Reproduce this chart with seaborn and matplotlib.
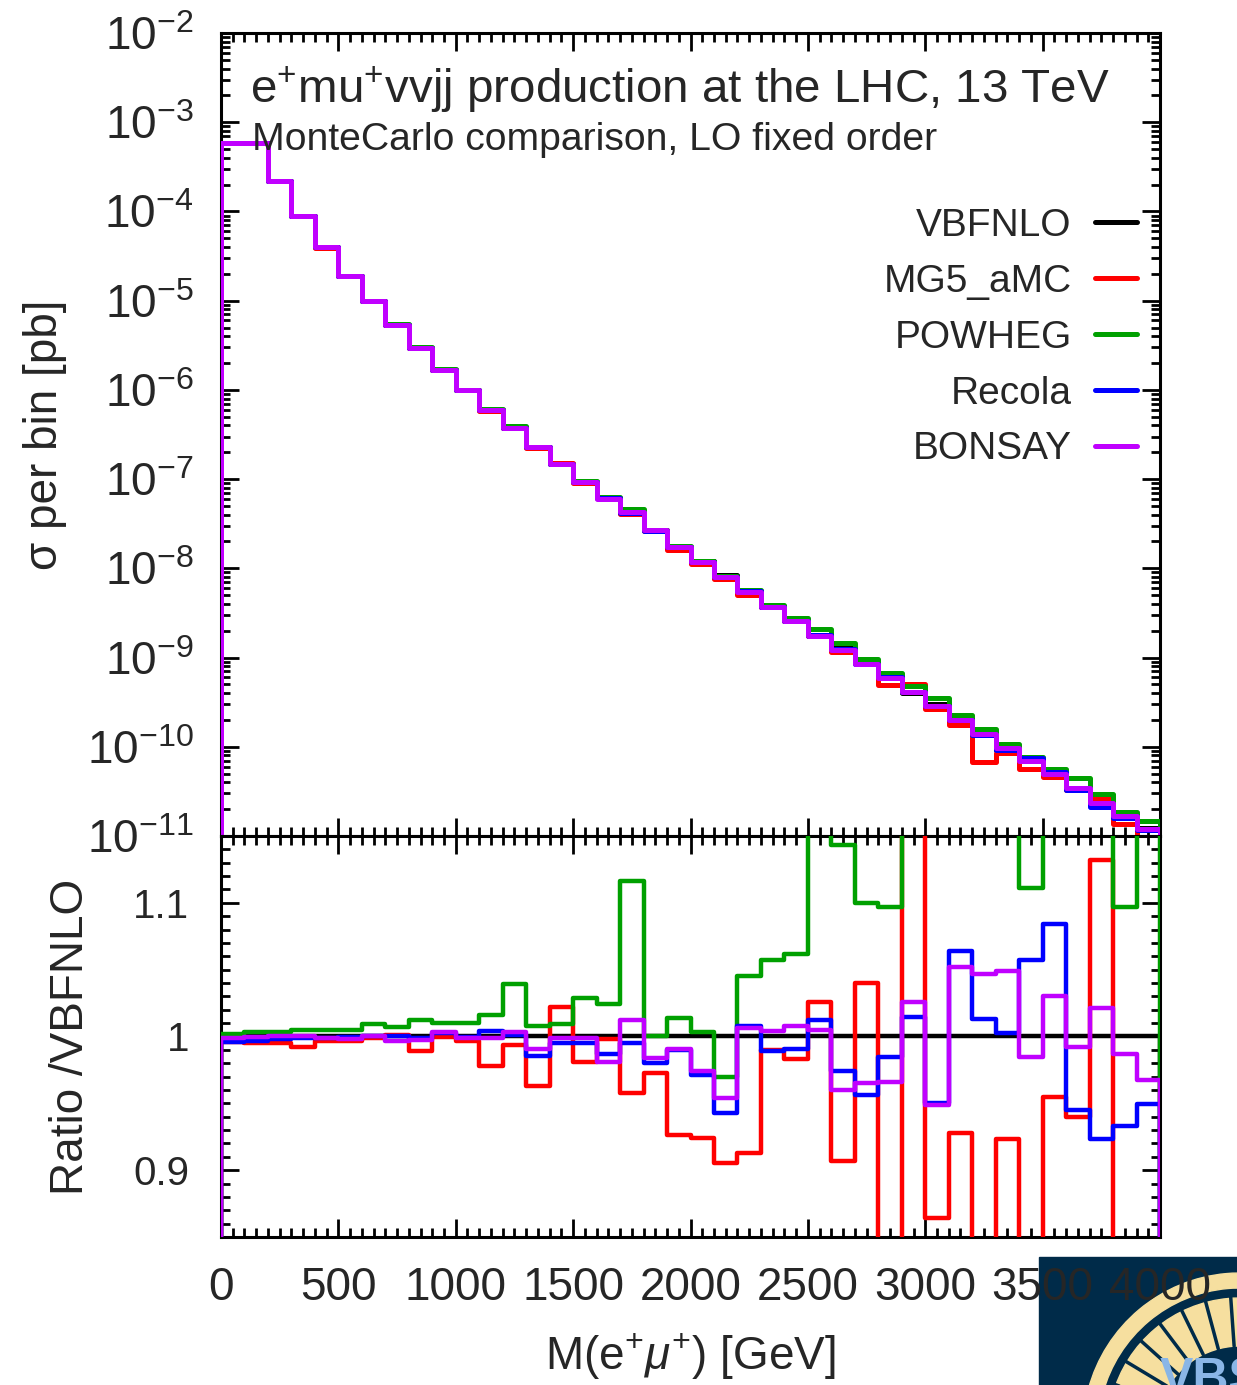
import numpy as np
import pandas as pd
import matplotlib
matplotlib.use("Agg")
import matplotlib.pyplot as plt
import seaborn as sns
from matplotlib.ticker import MultipleLocator, LogLocator, FixedLocator, FuncFormatter, NullFormatter
from matplotlib.lines import Line2D
from matplotlib.patches import Rectangle, Wedge

# ---------------- data ----------------
bin_edges = list(range(0, 4001, 100))          # M(e+mu+) bins [GeV]
generators = ["VBFNLO", "MG5_aMC", "POWHEG", "Recola", "BONSAY"]
colors = ["#000000", "#ff0000", "#00a000", "#0000ff", "#c000ff"]

# VBFNLO cross section per bin [pb]
vbfnlo_sigma = [5.9e-4, 5.9e-4, 2.21e-4, 8.95e-5, 3.95e-5, 1.90e-5, 9.8e-6, 5.37e-6, 2.96e-6, 1.68e-6,
                1.00e-6, 5.98e-7, 3.76e-7, 2.30e-7, 1.48e-7, 9.3e-8, 6.17e-8, 4.19e-8, 2.70e-8, 1.74e-8,
                1.21e-8, 8.4e-9, 5.46e-9, 3.71e-9, 2.58e-9, 1.75e-9, 1.27e-9, 8.8e-10, 6.1e-10, 4.05e-10,
                3.03e-10, 1.90e-10, 1.34e-10, 9.25e-11, 7.0e-11, 4.75e-11, 3.46e-11, 2.30e-11, 1.70e-11, 1.24e-11]

# ratios to VBFNLO
ratio_mg5 = [0.996, 0.995, 0.995, 0.9925, 0.997, 0.997, 0.999, 1.001, 0.989, 0.9995,
             0.997, 0.978, 0.994, 0.9626, 1.022, 0.981, 0.998, 0.958, 0.973, 0.926,
             0.924, 0.905, 0.913, 0.990, 0.983, 1.026, 0.907, 1.040, 0.80, 1.25,
             0.864, 0.928, 0.50, 0.923, 0.80, 0.955, 0.940, 1.132, 0.80, 0.75]
ratio_powheg = [1.002, 1.003, 1.003, 1.005, 1.005, 1.005, 1.009, 1.007, 1.012, 1.010,
                1.010, 1.016, 1.039, 1.0075, 1.009, 1.029, 1.024, 1.116, 1.000, 1.014,
                1.0037, 0.970, 1.0456, 1.057, 1.062, 1.20, 1.143, 1.100, 1.097, 1.18,
                1.17, 1.20, 1.17, 1.17, 1.111, 1.20, 1.30, 1.30, 1.097, 1.20]
ratio_recola = [0.996, 0.9965, 0.998, 0.999, 0.999, 0.9995, 1.0, 1.0, 0.999, 1.0025,
                0.9995, 1.004, 1.001, 0.9855, 0.9955, 0.9955, 0.987, 0.9955, 0.9805, 0.990,
                0.971, 0.943, 1.008, 0.9895, 0.991, 1.0125, 0.974, 0.956, 0.985, 1.0145,
                0.950, 1.064, 1.013, 1.0025, 1.057, 1.084, 0.945, 0.923, 0.933, 0.9497]
ratio_bonsay = [0.999, 0.9995, 1.0, 1.0, 0.999, 0.998, 1.0, 0.997, 0.9975, 1.003,
                0.999, 0.999, 1.003, 0.9905, 0.999, 0.999, 0.981, 1.0125, 0.984, 0.9905,
                0.974, 0.954, 1.006, 1.004, 1.0075, 1.005, 0.960, 0.965, 0.966, 1.026,
                0.949, 1.052, 1.047, 1.049, 0.985, 1.030, 0.9925, 1.021, 0.987, 0.9676]

y_ticks_ratio = [0.9, 1.0, 1.1]
y_ticklabels_ratio = ["0.9", "1", "1.1"]

# ---------------- style ----------------
sns.set_theme(style="ticks")
plt.rcParams["font.family"] = ["Liberation Sans", "DejaVu Sans"]
plt.rcParams["mathtext.fontset"] = "custom"
plt.rcParams["mathtext.rm"] = "Liberation Sans"
plt.rcParams["mathtext.it"] = "Liberation Sans:italic"
plt.rcParams["mathtext.bf"] = "Liberation Sans:bold"

W, H = 1237, 1385
fig = plt.figure(figsize=(W / 100, H / 100), dpi=100)
x0, x1 = 221, 1160
ax1 = fig.add_axes([x0 / W, 1 - 836 / H, (x1 - x0) / W, (836 - 33) / H])
ax2 = fig.add_axes([x0 / W, 1 - 1237 / H, (x1 - x0) / W, (1237 - 836) / H])

ratios = [np.ones(len(vbfnlo_sigma)), ratio_mg5, ratio_powheg, ratio_recola, ratio_bonsay]
edges = np.array(bin_edges, dtype=float)


def stair_points(values, base):
    v = np.asarray(values, dtype=float)
    xs = np.r_[edges[0], edges, edges[-1]]
    ys = np.r_[base, v, v[-1], base]
    return xs, ys


top_rows, bot_rows = [], []
for g, r in zip(generators, ratios):
    sig = np.asarray(vbfnlo_sigma) * np.asarray(r)
    xs, ys = stair_points(sig, 1e-14)
    top_rows.append(pd.DataFrame({"x": xs, "y": ys, "gen": g}))
    xs, ys = stair_points(r, 0.0)
    bot_rows.append(pd.DataFrame({"x": xs, "y": ys, "gen": g}))
top_df = pd.concat(top_rows, ignore_index=True)
bot_df = pd.concat(bot_rows, ignore_index=True)

pal = dict(zip(generators, colors))
sns.lineplot(data=top_df, x="x", y="y", hue="gen", hue_order=generators, palette=pal,
             estimator=None, sort=False, drawstyle="steps-post", linewidth=3.6,
             legend=False, ax=ax1, zorder=3)
sns.lineplot(data=bot_df, x="x", y="y", hue="gen", hue_order=generators, palette=pal,
             estimator=None, sort=False, drawstyle="steps-post", linewidth=3.2,
             legend=False, ax=ax2, zorder=3)

# ---------------- axes ----------------
ax1.set_yscale("log")
ax1.set_xlim(0, 4000)
ax1.set_ylim(1e-11, 1e-2)
ax2.set_xlim(0, 4000)
ax2.set_ylim(0.85, 1.15)

for ax in (ax1, ax2):
    for s in ax.spines.values():
        s.set_linewidth(2.2)
        s.set_color("black")
        s.set_visible(True)
    ax.xaxis.set_major_locator(MultipleLocator(500))
    ax.xaxis.set_minor_locator(MultipleLocator(50))
    ax.tick_params(which="both", direction="in", top=True, right=True, color="black", width=2.0)
    ax.tick_params(which="major", length=13)
    ax.tick_params(which="minor", length=6.5)
    ax.set_xlabel("")
    ax.set_ylabel("")

ax1.yaxis.set_major_locator(LogLocator(base=10, numticks=20))
ax1.yaxis.set_minor_locator(LogLocator(base=10, subs=np.arange(2, 10), numticks=200))
ax1.yaxis.set_minor_formatter(NullFormatter())
ax1.yaxis.set_major_formatter(FuncFormatter(lambda v, p: r"$\mathregular{10^{%d}}$" % int(round(np.log10(v)))))
ax1.tick_params(axis="x", labelbottom=False)
ax1.tick_params(axis="y", which="major", labelsize=33, pad=20)

ax2.yaxis.set_major_locator(FixedLocator(y_ticks_ratio))
ax2.set_yticklabels(y_ticklabels_ratio)
ax2.yaxis.set_minor_locator(MultipleLocator(0.01))
ax2.tick_params(axis="y", which="major", labelsize=29, pad=23)
ax2.tick_params(axis="x", which="major", labelsize=33, pad=21)

ax1.set_ylabel("σ per bin [pb]", fontsize=33)
ax1.yaxis.set_label_coords((67 - x0) / (x1 - x0), 0.5)
ax2.set_ylabel("Ratio /VBFNLO", fontsize=33)
ax2.yaxis.set_label_coords((93 - x0) / (x1 - x0), 0.5)
ax2.set_xlabel(r"M(e$^{+}\mu^{+}$) [GeV]", fontsize=33)
ax2.xaxis.set_label_coords(0.5, (1237 - 1332) / 401)

# titles inside the top panel
ax1.text((250 - x0) / (x1 - x0), (836 - 103) / 803, r"e$^{+}$mu$^{+}$vvjj production at the LHC, 13 TeV",
         transform=ax1.transAxes, ha="left", va="baseline", fontsize=34.2)
ax1.text((252 - x0) / (x1 - x0), (836 - 150) / 803, "MonteCarlo comparison, LO fixed order",
         transform=ax1.transAxes, ha="left", va="baseline", fontsize=28.2)

handles = [Line2D([], [], color=c, lw=3.6) for c in colors]
ax1.legend(handles, generators, loc="upper right", bbox_to_anchor=((1137 - x0) / (x1 - x0), (836 - 208) / 803),
           markerfirst=False, frameon=False, fontsize=28, handlelength=1.08, handletextpad=0.6,
           labelspacing=0.51, borderpad=0, borderaxespad=0)

# ---------------- logo (bottom right corner) ----------------
navy = "#002b49"
cream = "#f6df9f"
cx, cy = 1240, H - 1430
fig.patches.append(Rectangle((1039, 0), 210, H - 1257, transform=None, color=navy, zorder=-5))
fig.patches.append(Wedge((cx, cy), 157, 60, 200, width=15, transform=None, color=cream, zorder=-4))
fig.patches.append(Wedge((cx, cy), 132, 60, 200, width=48, transform=None, color=cream, zorder=-4))
for ang in np.arange(72, 200, 11):
    a = np.deg2rad(ang)
    fig.lines.append(Line2D([cx + 84 * np.cos(a), cx + 133 * np.cos(a)],
                            [cy + 84 * np.sin(a), cy + 133 * np.sin(a)],
                            transform=None, color=navy, lw=2.5, zorder=-3))
fig.text(1160, -8, "VBS", transform=None, fontsize=36, fontweight="bold", color="#8ab6e6",
         ha="left", va="baseline", zorder=-2)

fig.savefig("out.png", dpi=100)
